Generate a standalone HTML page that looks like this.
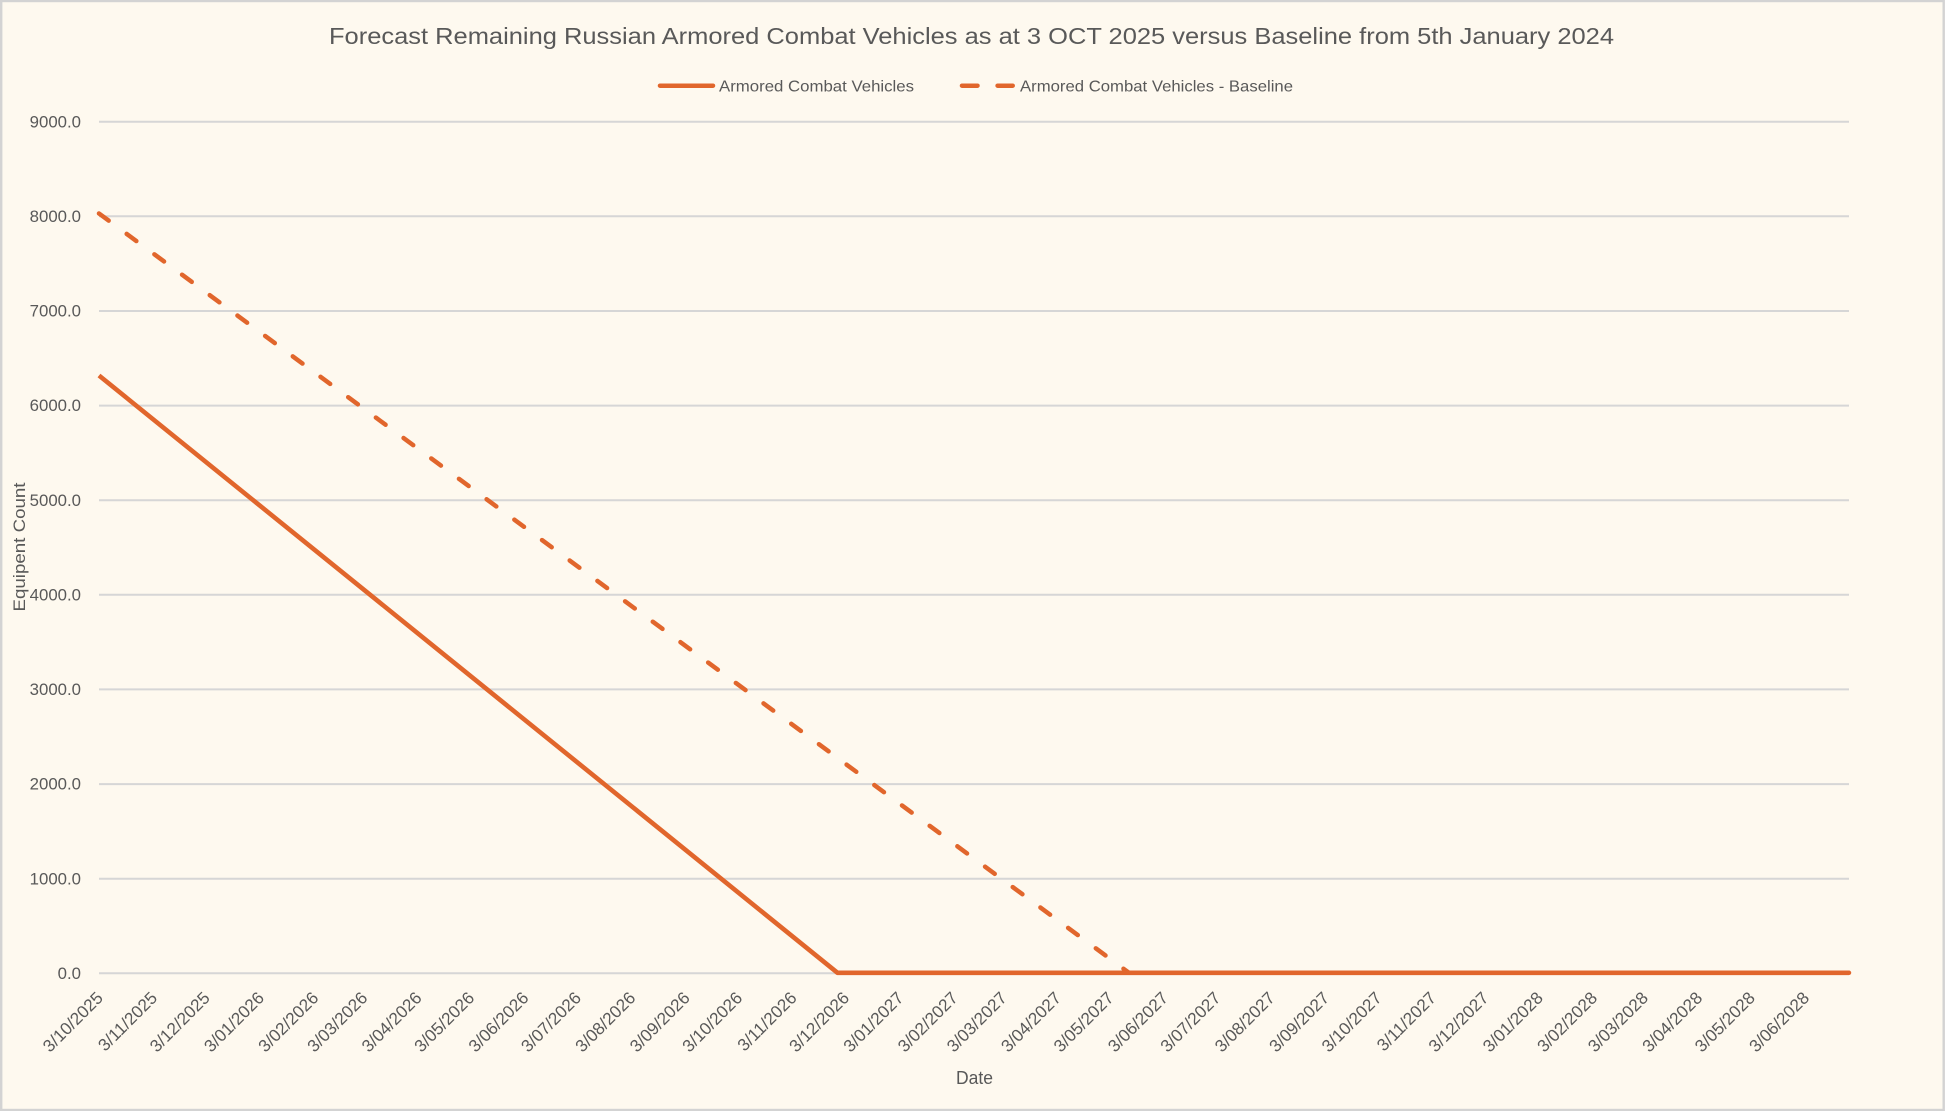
<!DOCTYPE html>
<html>
<head>
<meta charset="utf-8">
<style>
html,body{margin:0;padding:0;background:#FEF9EF;}
svg{display:block;}
text{font-family:"Liberation Sans",Arial,sans-serif;fill:#595959;}
</style>
</head>
<body>
<svg width="1945" height="1111" viewBox="0 0 1945 1111" xmlns="http://www.w3.org/2000/svg">
<rect x="1.2" y="1" width="1942.5" height="1109" fill="#FEF9EF" stroke="#D3D3D3" stroke-width="2.4"/>

<text x="329" y="44" font-size="23" textLength="1285" lengthAdjust="spacingAndGlyphs">Forecast Remaining Russian Armored Combat Vehicles as at 3 OCT 2025 versus Baseline from 5th January 2024</text>

<!-- legend -->
<line x1="660" y1="85.7" x2="713" y2="85.7" stroke="#E1662C" stroke-width="4.5" stroke-linecap="round"/>
<text x="719" y="91.5" font-size="16" textLength="195" lengthAdjust="spacingAndGlyphs">Armored Combat Vehicles</text>
<line x1="962" y1="85.7" x2="977.5" y2="85.7" stroke="#E1662C" stroke-width="4.5" stroke-linecap="round"/>
<line x1="997.6" y1="85.7" x2="1012.7" y2="85.7" stroke="#E1662C" stroke-width="4.5" stroke-linecap="round"/>
<text x="1020" y="91.5" font-size="16" textLength="273" lengthAdjust="spacingAndGlyphs">Armored Combat Vehicles - Baseline</text>

<!-- gridlines -->
<g stroke="#D6D6D6" stroke-width="2">
<line x1="99" y1="973.3" x2="1849" y2="973.3"/>
<line x1="99" y1="878.7" x2="1849" y2="878.7"/>
<line x1="99" y1="784.1" x2="1849" y2="784.1"/>
<line x1="99" y1="689.4" x2="1849" y2="689.4"/>
<line x1="99" y1="594.8" x2="1849" y2="594.8"/>
<line x1="99" y1="500.2" x2="1849" y2="500.2"/>
<line x1="99" y1="405.6" x2="1849" y2="405.6"/>
<line x1="99" y1="311.0" x2="1849" y2="311.0"/>
<line x1="99" y1="216.3" x2="1849" y2="216.3"/>
<line x1="99" y1="121.7" x2="1849" y2="121.7"/>
</g>

<!-- y labels -->
<g font-size="16.8" text-anchor="end">
<text x="81" y="979">0.0</text>
<text x="81" y="884.3">1000.0</text>
<text x="81" y="789.7">2000.0</text>
<text x="81" y="695">3000.0</text>
<text x="81" y="600.4">4000.0</text>
<text x="81" y="505.8">5000.0</text>
<text x="81" y="411.2">6000.0</text>
<text x="81" y="316.6">7000.0</text>
<text x="81" y="221.9">8000.0</text>
<text x="81" y="127.3">9000.0</text>
</g>

<!-- y axis title -->
<text transform="translate(25,547) rotate(-90)" font-size="17" text-anchor="middle" textLength="129" lengthAdjust="spacingAndGlyphs">Equipent Count</text>

<!-- x axis title -->
<text x="974.5" y="1084" font-size="18" text-anchor="middle" textLength="37" lengthAdjust="spacingAndGlyphs">Date</text>

<!-- x labels -->
<g font-size="17.2" text-anchor="end">
<text transform="translate(104,999) rotate(-45)">3/10/2025</text>
<text transform="translate(158.3,999) rotate(-45)">3/11/2025</text>
<text transform="translate(210.9,999) rotate(-45)">3/12/2025</text>
<text transform="translate(265.2,999) rotate(-45)">3/01/2026</text>
<text transform="translate(319.5,999) rotate(-45)">3/02/2026</text>
<text transform="translate(368.5,999) rotate(-45)">3/03/2026</text>
<text transform="translate(422.8,999) rotate(-45)">3/04/2026</text>
<text transform="translate(475.4,999) rotate(-45)">3/05/2026</text>
<text transform="translate(529.7,999) rotate(-45)">3/06/2026</text>
<text transform="translate(582.2,999) rotate(-45)">3/07/2026</text>
<text transform="translate(636.5,999) rotate(-45)">3/08/2026</text>
<text transform="translate(690.9,999) rotate(-45)">3/09/2026</text>
<text transform="translate(743.4,999) rotate(-45)">3/10/2026</text>
<text transform="translate(797.7,999) rotate(-45)">3/11/2026</text>
<text transform="translate(850.3,999) rotate(-45)">3/12/2026</text>
<text transform="translate(904.6,999) rotate(-45)">3/01/2027</text>
<text transform="translate(958.9,999) rotate(-45)">3/02/2027</text>
<text transform="translate(1007.9,999) rotate(-45)">3/03/2027</text>
<text transform="translate(1062.2,999) rotate(-45)">3/04/2027</text>
<text transform="translate(1114.8,999) rotate(-45)">3/05/2027</text>
<text transform="translate(1169.1,999) rotate(-45)">3/06/2027</text>
<text transform="translate(1221.6,999) rotate(-45)">3/07/2027</text>
<text transform="translate(1275.9,999) rotate(-45)">3/08/2027</text>
<text transform="translate(1330.3,999) rotate(-45)">3/09/2027</text>
<text transform="translate(1382.8,999) rotate(-45)">3/10/2027</text>
<text transform="translate(1437.1,999) rotate(-45)">3/11/2027</text>
<text transform="translate(1489.7,999) rotate(-45)">3/12/2027</text>
<text transform="translate(1544,999) rotate(-45)">3/01/2028</text>
<text transform="translate(1598.3,999) rotate(-45)">3/02/2028</text>
<text transform="translate(1649.1,999) rotate(-45)">3/03/2028</text>
<text transform="translate(1703.4,999) rotate(-45)">3/04/2028</text>
<text transform="translate(1756,999) rotate(-45)">3/05/2028</text>
<text transform="translate(1810.3,999) rotate(-45)">3/06/2028</text>
</g>

<!-- baseline dashed series -->
<polyline points="99,213.5 1129,972.8 1849,972.8" fill="none" stroke="#E1662C" stroke-width="4.5" stroke-linecap="round" stroke-linejoin="round" stroke-dasharray="12 22.4"/>

<!-- current series -->
<polyline points="99,375.5 837.5,972.8 1849,972.8" fill="none" stroke="#E1662C" stroke-width="4.6" stroke-linejoin="round"/>
</svg>
</body>
</html>
